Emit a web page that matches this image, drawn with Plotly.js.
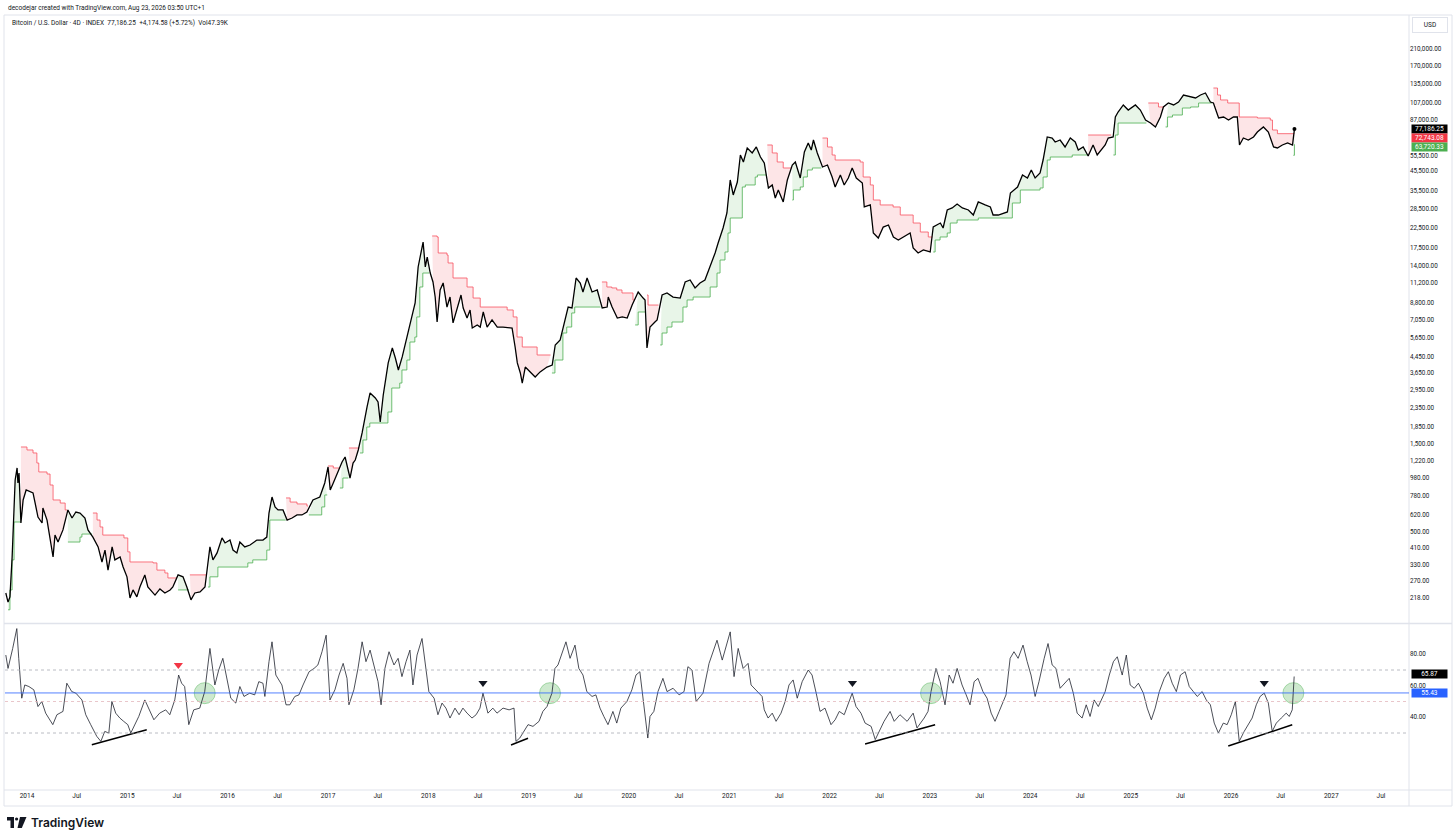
<!DOCTYPE html>
<html><head><meta charset="utf-8">
<script src="https://cdn.plot.ly/plotly-3.0.1.min.js"></script>
<style>html,body{margin:0;padding:0;background:#fff;}#chart{width:1456px;height:840px;}</style>
</head><body><div id="chart"></div>
<script>
// ---------- price (4D closes) ----------
const priceDates = [
'2013-10-16','2013-10-24','2013-10-31','2013-11-08','2013-11-19','2013-11-26','2013-11-29','2013-12-03','2013-12-10','2013-12-18','2013-12-29',
'2014-01-23','2014-01-30','2014-02-10','2014-02-25','2014-02-28','2014-03-15','2014-03-26','2014-04-06','2014-04-13','2014-04-24','2014-05-12','2014-05-30','2014-06-14','2014-06-28','2014-07-13','2014-07-31','2014-08-11','2014-08-29','2014-09-17','2014-10-01','2014-10-12','2014-10-23','2014-11-07','2014-11-17','2014-12-06','2014-12-17','2014-12-31',
'2015-01-11','2015-01-22','2015-02-05','2015-02-16','2015-03-06','2015-03-17','2015-04-12','2015-04-30','2015-05-18','2015-06-06','2015-06-16','2015-07-05','2015-07-23','2015-08-06','2015-08-21','2015-09-04','2015-09-23','2015-10-11','2015-10-29','2015-11-09','2015-11-24','2015-12-12','2015-12-23',
'2016-01-10','2016-01-21','2016-02-04','2016-02-15','2016-03-04','2016-03-23','2016-04-17','2016-05-09','2016-05-23','2016-05-31','2016-06-11','2016-06-22','2016-07-03','2016-07-21','2016-08-05','2016-08-23','2016-09-10','2016-09-28','2016-10-16','2016-11-07','2016-12-02','2016-12-20',
'2017-01-01','2017-01-09','2017-01-20','2017-02-03','2017-02-21','2017-03-04','2017-03-15','2017-03-22','2017-04-02','2017-04-10','2017-04-21','2017-05-05','2017-05-23','2017-06-03','2017-06-22','2017-07-02','2017-07-10','2017-07-21','2017-08-08','2017-08-23','2017-09-03','2017-09-14','2017-09-28','2017-10-16','2017-11-03','2017-11-14','2017-11-25','2017-12-13','2017-12-21','2017-12-28',
'2018-01-08','2018-01-18','2018-01-26','2018-02-02','2018-02-13','2018-02-24','2018-03-10','2018-03-21','2018-04-01','2018-04-16','2018-04-30','2018-05-08','2018-05-22','2018-06-02','2018-06-10','2018-06-28','2018-07-09','2018-07-20','2018-08-03','2018-08-21','2018-09-09','2018-09-30','2018-11-02','2018-11-13','2018-11-21','2018-12-02','2018-12-09','2018-12-20',
'2019-01-06','2019-01-25','2019-02-12','2019-03-09','2019-03-28','2019-04-08','2019-04-26','2019-05-14','2019-05-25','2019-06-08','2019-06-23','2019-07-08','2019-07-18','2019-08-02','2019-08-20','2019-09-08','2019-09-26','2019-10-14','2019-10-18','2019-11-01','2019-11-20','2019-12-08','2019-12-26',
'2020-01-13','2020-02-04','2020-02-22','2020-02-29','2020-03-07','2020-03-18','2020-04-05','2020-04-13','2020-05-01','2020-05-19','2020-06-10','2020-07-06','2020-07-24','2020-08-11','2020-08-29','2020-09-16','2020-10-04','2020-10-22','2020-11-10','2020-11-21','2020-12-09','2020-12-23',
'2021-01-04','2021-01-15','2021-01-30','2021-02-10','2021-02-21','2021-03-07','2021-03-25','2021-04-09','2021-04-24','2021-05-08','2021-05-23','2021-06-06','2021-06-17','2021-06-28','2021-07-16','2021-07-31','2021-08-18','2021-08-29','2021-09-16','2021-10-01','2021-10-15','2021-10-26','2021-11-03','2021-11-17','2021-12-06','2021-12-24',
'2022-01-10','2022-01-21','2022-02-09','2022-02-23','2022-03-10','2022-03-24','2022-04-08','2022-04-30','2022-05-07','2022-05-29','2022-06-09','2022-06-27','2022-07-15','2022-08-03','2022-08-21','2022-09-08','2022-09-26','2022-10-21','2022-11-01','2022-11-19','2022-12-08',
'2023-01-02','2023-01-13','2023-02-08','2023-02-18','2023-03-05','2023-03-23','2023-04-10','2023-04-29','2023-05-21','2023-06-08','2023-06-26','2023-07-21','2023-08-09','2023-08-19','2023-09-07','2023-10-10','2023-10-21','2023-11-16','2023-12-04','2023-12-22',
'2024-01-05','2024-01-19','2024-02-06','2024-02-17','2024-03-03','2024-03-21','2024-04-01','2024-04-19','2024-05-07','2024-05-26','2024-06-13','2024-06-24','2024-07-12','2024-07-30','2024-08-17','2024-09-01','2024-09-19','2024-09-30','2024-10-11','2024-10-29','2024-11-06','2024-11-16','2024-12-05','2024-12-23',
'2025-01-18','2025-02-05','2025-02-24','2025-03-14','2025-04-01','2025-04-19','2025-04-30','2025-05-18','2025-06-06','2025-06-24','2025-07-12','2025-08-07','2025-08-25','2025-09-12','2025-09-30','2025-10-18','2025-10-29','2025-11-17','2025-12-05','2025-12-23',
'2026-01-10','2026-01-24','2026-02-01','2026-02-15','2026-03-05','2026-03-24','2026-04-07','2026-04-29','2026-05-17','2026-06-05','2026-06-19','2026-07-07','2026-07-26','2026-08-13','2026-08-20'
];
const priceValues = [
232,207,221,364,954,1109,919,1041,557,743,842,
811,724,600,557,672,578,450,364,479,439,511,656,593,639,631,593,511,467,413,342,397,309,413,351,364,321,284,
218,241,221,250,291,250,226,244,232,241,250,291,284,250,213,232,235,250,413,351,383,462,434,
450,397,383,439,413,423,450,450,467,631,771,681,656,656,578,593,616,616,639,743,771,919,
1123,842,919,1041,1195,1272,1081,978,1180,1225,1389,1718,2379,2835,2663,2532,1971,2765,4130,4980,4390,3780,4450,5710,7240,8740,13720,18750,13720,15540,
12720,11370,9420,6890,10290,11230,8310,9420,6810,8310,9660,8210,7240,8010,6390,6640,6470,7810,6470,7070,6470,6470,6390,5040,4130,3640,3210,3920,
3690,3460,3690,3920,4020,5170,5500,7070,8310,8210,11950,11230,10030,11950,10030,10290,8210,8310,9420,8310,7240,7340,7240,
8520,10030,9300,9080,4980,6470,6890,7070,9660,9910,9420,9300,11370,11660,10550,11230,11660,13720,16340,18520,22340,26960,
40740,33780,39740,55700,51040,60810,57130,61580,54330,50400,36870,38280,32530,35950,30940,40740,49160,51040,41780,57840,64730,59310,67200,57130,47940,49160,
42300,37330,43380,38280,41780,47350,41780,39240,29070,29810,20990,19710,22620,23200,19970,19230,19970,20990,17400,16340,16970,
16550,22620,23780,22340,27990,28710,30180,28710,27990,26290,30940,29810,29070,26290,26290,27300,34630,37330,43380,41780,
46180,41780,44480,52330,69800,68900,65550,67200,61580,68900,65550,59310,61580,55010,63140,55700,60810,63140,68900,69800,89600,95400,104200,97800,
104200,97800,86300,83100,79100,89600,101600,106800,104200,108100,118000,115100,113700,118000,121000,108100,106800,88500,89600,86300,
89600,89600,63140,68900,67200,69800,74300,79100,74300,61580,60810,63140,64730,63140,77186.25
];

// ---------- supertrend: up (green) and down (red) plots, null = gap ----------
const stUpDates = [
'2013-10-24','2013-10-31','2013-11-08','2013-11-15','2013-12-10',null,
'2014-05-30','2014-07-13','2014-07-20','2014-08-26',null,
'2015-07-05','2015-08-13',null,
'2015-10-22','2015-10-29','2015-11-27','2016-03-15','2016-04-02','2016-05-23','2016-06-03','2016-07-31',null,
'2016-10-23','2016-12-09','2016-12-20','2016-12-29',null,
'2017-02-13','2017-02-24','2017-03-16',null,
'2017-04-27','2017-05-08','2017-05-22','2017-06-02','2017-08-07','2017-08-21','2017-09-19','2017-09-27','2017-10-15','2017-10-26','2017-11-13','2017-11-20','2017-12-01','2017-12-12','2018-01-04',null,
'2019-03-27','2019-04-07','2019-05-06','2019-05-20','2019-06-07','2019-06-18','2019-09-20',null,
'2020-01-24','2020-02-04','2020-03-03',null,
'2020-04-24','2020-05-01','2020-05-19','2020-06-06','2020-07-16','2020-07-31','2020-08-22','2020-10-23','2020-11-17','2020-11-28','2020-12-16','2020-12-27','2021-01-04','2021-02-17','2021-02-28','2021-04-05','2021-04-13','2021-05-15',null,
'2021-08-18','2021-08-22','2021-09-16','2021-09-27','2021-10-12','2021-10-30','2021-12-02',null,
'2023-01-13','2023-01-20','2023-02-07','2023-03-05','2023-03-16','2023-04-10','2023-06-26','2023-10-28','2023-11-26','2024-02-06','2024-02-17','2024-03-03','2024-03-14','2024-06-02','2024-07-27',null,
'2024-10-30','2024-11-06','2024-11-16','2025-02-27',null,
'2025-05-08','2025-05-15','2025-06-02','2025-07-08','2025-08-07','2025-09-05','2025-10-24',null,
'2026-08-16','2026-08-20'
];
const stUpValues = [
188,241,351,564,564,null,
439,467,485,485,null,
241,241,null,
250,284,321,338,351,397,578,578,null,
616,681,791,791,null,
863,978,978,null,
1338,1574,1852,1947,2235,3016,3210,3780,4282,5365,5710,7340,10680,12720,12720,null,
3640,4282,6003,6470,7714,8310,8310,null,
6640,7810,7810,null,
5170,6003,6470,6890,8310,9080,9420,10680,12720,14970,16550,20990,25320,37330,38280,42300,43380,43380,null,
31710,35950,37330,42300,46180,47350,47350,null,
16550,19230,19970,20990,23780,24700,25320,30550,35950,36870,42300,52330,54330,55700,55700,null,
55700,71550,83100,83100,null,
79100,89600,91900,100300,101600,106800,106800,null,
55500,63720.33
];
const stDownDates = [
'2013-12-10','2014-01-01','2014-01-23','2014-02-06','2014-02-13','2014-03-15','2014-03-26','2014-04-06','2014-05-02','2014-05-20','2014-05-27',null,
'2014-08-29','2014-09-13','2014-09-24','2014-10-04','2014-12-20','2015-01-03','2015-01-11','2015-04-05','2015-04-19','2015-05-18','2015-05-29','2015-07-01',null,
'2015-08-17','2015-10-15',null,
'2016-08-01','2016-08-16','2016-09-10','2016-10-16','2016-10-20',null,
'2017-01-01','2017-01-20','2017-02-10',null,
'2017-03-18','2017-04-24',null,
'2018-01-15','2018-02-02','2018-02-06','2018-03-10','2018-03-14','2018-04-01','2018-05-22','2018-06-13','2018-07-09','2018-10-15','2018-11-06','2018-11-20','2018-12-09','2019-02-01','2019-03-22',null,
'2019-09-25','2019-10-13','2019-10-31','2019-11-18','2019-12-07','2020-01-16','2020-01-22',null,
'2020-03-07','2020-03-11','2020-04-18',null,
'2021-05-19','2021-06-06','2021-06-24','2021-07-16','2021-08-14',null,
'2021-12-06','2021-12-24','2022-01-10','2022-01-21','2022-04-22','2022-05-03','2022-05-29','2022-06-09','2022-07-04','2022-08-20','2022-09-15','2022-11-01','2022-11-27','2022-12-26','2023-01-10',null,
'2024-07-30','2024-10-22',null,
'2025-03-06','2025-04-12','2025-05-02',null,
'2025-10-29','2025-11-13','2025-11-24','2025-12-20','2026-01-31','2026-04-07','2026-05-24','2026-06-01','2026-06-19','2026-08-20'
];
const stDownValues = [
1442,1389,1338,1180,1055,1028,896,743,715,656,656,null,
631,578,530,479,462,388,342,338,309,298,280,280,null,
291,291,null,
762,724,707,689,689,null,
1137,1109,1109,null,
1424,1424,null,
20220,19970,16340,15930,14420,11950,10680,9300,8310,8010,7340,5710,5040,4560,4560,null,
11370,10680,10550,10290,9910,9080,9080,null,
9660,8520,8520,null,
63140,57130,51040,47350,47350,null,
68900,61580,55700,52330,51040,42300,38280,31710,29810,29070,26290,23780,21250,19970,19970,null,
71550,71550,null,
106800,101600,101600,null,
128800,118000,110900,106800,89600,88500,86300,76170,72743.08,72743.08
];

// ---------- RSI (time in decimal years) ----------
const rsiTime = [
2013.791,2013.811,2013.860,2013.900,2013.920,2013.950,2013.980,2014.020,2014.070,2014.110,
2014.150,2014.189,2014.259,2014.299,2014.359,2014.399,2014.449,2014.489,2014.548,2014.588,
2014.638,2014.698,2014.738,2014.778,2014.818,2014.847,2014.887,2014.927,2014.967,2015.007,
2015.037,2015.077,2015.117,2015.177,2015.216,2015.266,2015.326,2015.386,2015.426,2015.476,
2015.515,2015.545,2015.575,2015.615,2015.665,2015.725,2015.775,2015.825,2015.874,2015.914,
2015.954,2015.994,2016.034,2016.084,2016.124,2016.164,2016.223,2016.273,2016.313,2016.353,
2016.373,2016.413,2016.443,2016.483,2016.542,2016.582,2016.622,2016.672,2016.712,2016.752,
2016.812,2016.861,2016.901,2016.941,2016.981,2017.021,2017.071,2017.111,2017.151,2017.190,
2017.210,2017.260,2017.300,2017.340,2017.380,2017.420,2017.470,2017.500,2017.529,2017.569,
2017.609,2017.659,2017.699,2017.739,2017.779,2017.819,2017.848,2017.888,2017.938,2017.978,
2018.008,2018.058,2018.098,2018.138,2018.177,2018.217,2018.267,2018.307,2018.347,2018.387,
2018.437,2018.477,2018.516,2018.546,2018.596,2018.646,2018.686,2018.746,2018.806,2018.855,
2018.875,2018.915,2018.955,2018.995,2019.045,2019.105,2019.145,2019.184,2019.234,2019.264,
2019.294,2019.334,2019.374,2019.414,2019.464,2019.503,2019.543,2019.583,2019.633,2019.673,
2019.713,2019.753,2019.793,2019.843,2019.882,2019.922,2019.982,2020.032,2020.072,2020.112,
2020.152,2020.191,2020.211,2020.251,2020.291,2020.341,2020.381,2020.441,2020.501,2020.550,
2020.590,2020.630,2020.670,2020.740,2020.800,2020.840,2020.879,2020.929,2020.969,2021.009,
2021.049,2021.089,2021.139,2021.188,2021.218,2021.278,2021.328,2021.348,2021.388,2021.428,
2021.468,2021.517,2021.557,2021.597,2021.637,2021.677,2021.727,2021.787,2021.827,2021.866,
2021.906,2021.956,2022.016,2022.056,2022.096,2022.146,2022.186,2022.225,2022.265,2022.315,
2022.355,2022.415,2022.455,2022.495,2022.544,2022.604,2022.644,2022.704,2022.774,2022.834,
2022.873,2022.943,2022.983,2023.013,2023.063,2023.103,2023.153,2023.193,2023.232,2023.272,
2023.322,2023.362,2023.402,2023.442,2023.482,2023.531,2023.571,2023.611,2023.651,2023.691,
2023.761,2023.801,2023.841,2023.880,2023.930,2023.970,2024.010,2024.050,2024.090,2024.140,
2024.180,2024.219,2024.259,2024.299,2024.349,2024.389,2024.429,2024.469,2024.519,2024.558,
2024.598,2024.638,2024.678,2024.748,2024.788,2024.828,2024.867,2024.917,2024.957,2024.997,
2025.037,2025.077,2025.127,2025.167,2025.206,2025.246,2025.286,2025.336,2025.376,2025.416,
2025.456,2025.496,2025.545,2025.585,2025.625,2025.665,2025.715,2025.755,2025.795,2025.835,
2025.874,2025.924,2025.964,2026.004,2026.044,2026.084,2026.134,2026.174,2026.213,2026.253,
2026.293,2026.333,2026.373,2026.413,2026.453,2026.503,2026.552,2026.582,2026.612,2026.632
];
const rsiValues = [
79.5,71,83.7,96.3,77.4,52.1,60.5,59.5,57.4,46.8,
50,42.6,35.3,41.6,43.7,61.6,56.3,55.3,51,41.6,
35.3,27.9,24.7,31,30,50,42.6,39.5,37.4,35.3,
30,35.3,40.5,51,45.8,38.4,42.6,44.7,41.6,51,
66.8,61.6,59.5,35.3,44.7,45.8,56.3,83.7,60.5,70,
77.4,64.7,52.1,49,59.5,53.2,55.3,54.2,62.6,61.6,
53.2,75.3,87.9,66.8,60.5,47.9,47.9,53.2,54.2,60.5,
68.9,71,73.2,81.6,92.1,51,57.4,66.8,74.2,64.7,
47.9,57.4,71,87.9,75.3,82.6,71,62.6,47.9,71,
81.6,73.2,77.4,65.8,75.3,82.6,60.5,79.5,90,71,
56.3,52.1,41.6,49,45.8,39.5,45.8,41.6,45.8,42.6,
39.5,41.6,45.8,55.3,42.6,45.8,42.6,45.8,44.7,45.8,
24.7,26.8,31,35.3,34.2,37.4,43.7,46.8,55.3,71,
73.2,80.5,87.9,77.4,85.8,71,66.8,56.3,53.2,54.2,
45.8,40.5,35.3,43.7,36.3,45.8,50,57.4,66.8,68.9,
47.9,26.8,40.5,43.7,56.3,64.7,56.3,58.4,54.2,56.3,
72.1,70,50,55.3,74.2,81.6,88.9,76.3,85.8,94.2,
65.8,83.7,71,74.2,60.5,56.3,53.2,44.7,39.5,42.6,
37.4,42.6,50,60.5,63.7,52.1,62.6,70,66.8,55.3,
43.7,45.8,35.3,38.4,43.7,41.6,47.9,55.3,46.8,42.6,
36.3,34.2,25.8,31,37.4,43.7,37.4,41.6,37.4,42.6,
33.2,39.5,43.7,56.3,71,62.6,47.9,66.8,61.6,71,
60.5,54.2,47.9,62.6,64.7,56.3,52.1,42.6,37.4,43.7,
54.2,77.4,81.6,77.4,85.8,75.3,66.8,53.2,62.6,77.4,
86.8,73.2,71,58.4,61.6,64.7,55.3,42.6,39.5,47.9,
40.5,51,46.8,56.3,66.8,75.3,78.4,66.8,79.5,60.5,
58.4,61.6,55.3,45.8,38.4,45.8,56.3,64.7,68.9,61.6,
56.3,66.8,68.9,59.5,56.3,53.2,56.3,51,47.9,36.3,
30,36.3,35.3,41.6,50,24.7,31,35.3,39.5,47.9,
53.2,55.3,49,31,36.3,39.5,42.6,40.5,44.7,65.87
];
const rsiUpper = 70, rsiMiddle = 50, rsiLower = 30;
const rsiSignalLevel = 55.43;
// drawn divergence trendlines
const divStartTime = [2014.648, 2018.826, 2022.355, 2025.974];
const divStartValue = [22.6, 22.4, 23.0, 21.7];
const divEndTime = [2015.196, 2018.995, 2023.053, 2026.612];
const divEndValue = [32.1, 26.7, 35.3, 35.2];
// peak markers and circle highlights
const peakTime = [2015.511, 2018.546, 2022.230, 2026.333];
const peakValue = [73.2, 61.7, 61.7, 61.7];
const peakColor = ['#f23645', '#131722', '#131722', '#131722'];
const crossTime = [2015.775, 2019.214, 2023.013, 2026.622];
const crossValue = [55.3, 55.3, 55.3, 55.3];

// ---------- axis ticks ----------
const priceTicks = [218,270,330,410,500,620,780,980,1220,1500,1850,2350,2950,3650,4450,5650,7050,8800,11200,14000,17500,22500,28500,35500,45500,55500,87000,107000,135000,170000,210000];
const rsiTicks = [40, 60, 80];
const xTickVals = ['2014-01-01','2014-07-01','2015-01-01','2015-07-01','2016-01-01','2016-07-01','2017-01-01','2017-07-01','2018-01-01','2018-07-01','2019-01-01','2019-07-01','2020-01-01','2020-07-01','2021-01-01','2021-07-01','2022-01-01','2022-07-01','2023-01-01','2023-07-01','2024-01-01','2024-07-01','2025-01-01','2025-07-01','2026-01-01','2026-07-01','2027-01-01','2027-07-01'];
const xTickText = ['2014','Jul','2015','Jul','2016','Jul','2017','Jul','2018','Jul','2019','Jul','2020','Jul','2021','Jul','2022','Jul','2023','Jul','2024','Jul','2025','Jul','2026','Jul','2027','Jul'];
const lastPrice = 77186.25, lastDown = 72743.08, lastUp = 63720.33, lastRsi = 65.87;

// ---------- helpers ----------
function decYear(t){const y=Math.floor(t);const a=Date.UTC(y,0,1),b=Date.UTC(y+1,0,1);return new Date(a+(t-y)*(b-a)).toISOString().slice(0,10);}
function fmt(v){return v.toLocaleString('en-US',{minimumFractionDigits:2,maximumFractionDigits:2});}
function splitSegs(ds,vs){const out=[];let c=null;for(let i=0;i<ds.length;i++){if(ds[i]===null){c=null;continue;}if(!c){c={x:[],y:[]};out.push(c);}c.x.push(ds[i]);c.y.push(vs[i]);}return out;}
function stepPath(s){const xs=[],ys=[];for(let i=0;i<s.x.length;i++){xs.push(s.x[i]);ys.push(s.y[i]);if(i<s.x.length-1){xs.push(s.x[i+1]);ys.push(s.y[i]);}}return {xs,ys};}
const PX = v => (v-5)/1404, PY = v => (790-v)/775;

const traces = [];
function addSupertrend(ds,vs,lineColor,fillColor){
  const segs=splitSegs(ds,vs); const lx=[],ly=[];
  segs.forEach(s=>{
    const p=stepPath(s); const fx=[],fy=[];
    for(let i=priceDates.length-1;i>=0;i--){if(priceDates[i]>=s.x[0]&&priceDates[i]<=s.x[s.x.length-1]){fx.push(priceDates[i]);fy.push(priceValues[i]);}}
    if(fx.length>0){traces.push({x:p.xs.concat(fx),y:p.ys.concat(fy),xaxis:'x',yaxis:'y',mode:'lines',fill:'toself',fillcolor:fillColor,line:{width:0},hoverinfo:'skip'});}
    lx.push(...p.xs,null); ly.push(...p.ys,null);
  });
  return {x:lx,y:ly,xaxis:'x',yaxis:'y',mode:'lines',line:{color:lineColor,width:0.8},hoverinfo:'skip',connectgaps:false};
}
const upLine = addSupertrend(stUpDates,stUpValues,'#4caf50','rgba(76,175,80,0.13)');
const downLine = addSupertrend(stDownDates,stDownValues,'#f7525f','rgba(242,54,69,0.13)');
traces.push(upLine, downLine);
traces.push({x:priceDates,y:priceValues,xaxis:'x',yaxis:'y',mode:'lines',line:{color:'#000',width:1.3},hoverinfo:'skip'});
traces.push({x:[priceDates[priceDates.length-1]],y:[priceValues[priceValues.length-1]],xaxis:'x',yaxis:'y',mode:'markers',marker:{color:'#000',size:4},hoverinfo:'skip'});

// RSI pane
traces.push({x:crossTime.map(decYear),y:crossValue,xaxis:'x',yaxis:'y2',mode:'markers',marker:{size:21,color:'rgba(76,175,80,0.28)',line:{color:'rgba(76,175,80,0.45)',width:1}},hoverinfo:'skip'});
traces.push({x:rsiTime.map(decYear),y:rsiValues,xaxis:'x',yaxis:'y2',mode:'lines',line:{color:'#1e222d',width:0.8},hoverinfo:'skip'});
for(let i=0;i<divStartTime.length;i++){
  traces.push({x:[decYear(divStartTime[i]),decYear(divEndTime[i])],y:[divStartValue[i],divEndValue[i]],xaxis:'x',yaxis:'y2',mode:'lines',line:{color:'#000',width:1.5},hoverinfo:'skip'});
}
traces.push({x:peakTime.map(decYear),y:peakValue,xaxis:'x',yaxis:'y2',mode:'markers',marker:{symbol:'triangle-down',size:8,color:peakColor},hoverinfo:'skip'});

const grey='#e0e3eb';
const shapes = [
  {type:'rect',xref:'paper',yref:'paper',x0:PX(4),x1:PX(1452),y0:PY(806),y1:PY(15),line:{color:grey,width:1}},
  {type:'line',xref:'paper',yref:'paper',x0:1,x1:1,y0:PY(806),y1:PY(15),line:{color:grey,width:1}},
  {type:'line',xref:'paper',yref:'paper',x0:PX(4),x1:PX(1452),y0:0,y1:0,line:{color:grey,width:1}},
  {type:'line',xref:'paper',yref:'paper',x0:PX(4),x1:PX(1452),y0:PY(623.5),y1:PY(623.5),line:{color:grey,width:1.5}},
  {type:'line',xref:'paper',yref:'y2',x0:0,x1:1,y0:rsiUpper,y1:rsiUpper,line:{color:'#a8abb4',width:0.8,dash:'3px,3px'}},
  {type:'line',xref:'paper',yref:'y2',x0:0,x1:1,y0:rsiLower,y1:rsiLower,line:{color:'#a8abb4',width:0.8,dash:'3px,3px'}},
  {type:'line',xref:'paper',yref:'y2',x0:0,x1:1,y0:rsiMiddle,y1:rsiMiddle,line:{color:'#e3b7bc',width:0.8,dash:'3px,3px'}},
  {type:'line',xref:'paper',yref:'y2',x0:0,x1:1,y0:rsiSignalLevel,y1:rsiSignalLevel,line:{color:'#2962ff',width:0.8}},
  // TradingView logo mark
  {type:'path',xref:'paper',yref:'paper',path:`M ${PX(7)},${PY(817)} L ${PX(14)},${PY(817)} L ${PX(14)},${PY(828)} L ${PX(10.5)},${PY(828)} L ${PX(10.5)},${PY(820.5)} L ${PX(7)},${PY(820.5)} Z`,fillcolor:'#131722',line:{width:0}},
  {type:'circle',xref:'paper',yref:'paper',x0:PX(15),x1:PX(18.2),y0:PY(820.6),y1:PY(817.4),fillcolor:'#131722',line:{width:0}},
  {type:'path',xref:'paper',yref:'paper',path:`M ${PX(20)},${PY(817)} L ${PX(26.5)},${PY(817)} L ${PX(21.8)},${PY(828)} L ${PX(17.5)},${PY(828)} Z`,fillcolor:'#131722',line:{width:0}}
];

const f = {family:'Roboto, "Liberation Sans", Arial, sans-serif', size:6.5, color:'#131722'};
const lbl = (y,yref,text,bg,shift) => ({xref:'paper',yref:yref,x:PX(1411),y:y,xanchor:'left',yanchor:'middle',yshift:shift||0,text:text,showarrow:false,bgcolor:bg,font:{family:f.family,size:6.5,color:'#fff'},width:35,height:8,borderpad:0,align:'center'});
const annotations = [
  {xref:'paper',yref:'paper',x:PX(6),y:PY(8),xanchor:'left',yanchor:'middle',showarrow:false,text:'decodejar created with TradingView.com, Aug 23, 2026 03:50 UTC+1',font:f},
  {xref:'paper',yref:'paper',x:PX(10),y:PY(23),xanchor:'left',yanchor:'middle',showarrow:false,text:'Bitcoin / U.S. Dollar · 4D · INDEX\u00a0\u00a0'+fmt(lastPrice)+'\u00a0\u00a0+4,174.58 (+5.72%)\u00a0\u00a0Vol47.39K',font:f},
  {xref:'paper',yref:'paper',x:PX(1430),y:PY(25),xanchor:'center',yanchor:'middle',showarrow:false,text:'USD',font:f,bordercolor:grey,borderwidth:1,borderpad:2,width:30,height:10},
  {xref:'paper',yref:'paper',x:PX(29),y:PY(822),xanchor:'left',yanchor:'middle',showarrow:false,text:'TradingView',font:{family:'Inter, Roboto, sans-serif',size:12,color:'#131722',weight:600}},
  lbl(Math.log10(lastPrice),'y',fmt(lastPrice),'#000000',0),
  lbl(Math.log10(lastDown),'y',fmt(lastDown),'#f23645',-4),
  lbl(Math.log10(lastUp),'y',fmt(lastUp),'#4caf50',-3),
  lbl(lastRsi,'y2',fmt(lastRsi),'#000000',3),
  lbl(rsiSignalLevel,'y2',fmt(rsiSignalLevel),'#2962ff',0)
];

const layout = {
  width:1456, height:840, margin:{l:5,r:47,t:15,b:50},
  paper_bgcolor:'#ffffff', plot_bgcolor:'#ffffff', showlegend:false, hovermode:false,
  font:f,
  xaxis:{type:'date',anchor:'y2',domain:[0,1],range:['2013-10-13','2027-10-11'],showgrid:false,zeroline:false,showline:false,ticks:'',tickmode:'array',tickvals:xTickVals,ticktext:xTickText,tickfont:{size:6.5,color:'#131722'}},
  yaxis:{type:'log',domain:[0.2168,1],range:[2.2079,5.5068],side:'right',anchor:'x',showgrid:false,zeroline:false,showline:false,ticks:'',tickmode:'array',tickvals:priceTicks,ticktext:priceTicks.map(fmt),tickfont:{size:6.3,color:'#131722'}},
  yaxis2:{domain:[0,0.2129],range:[-6.19,98.57],side:'right',anchor:'x',showgrid:false,zeroline:false,showline:false,ticks:'',tickmode:'array',tickvals:rsiTicks,ticktext:rsiTicks.map(fmt),tickfont:{size:6.3,color:'#131722'}},
  shapes:shapes, annotations:annotations
};
Plotly.newPlot('chart', traces, layout, {staticPlot:true, displayModeBar:false});
</script>
</body></html>
